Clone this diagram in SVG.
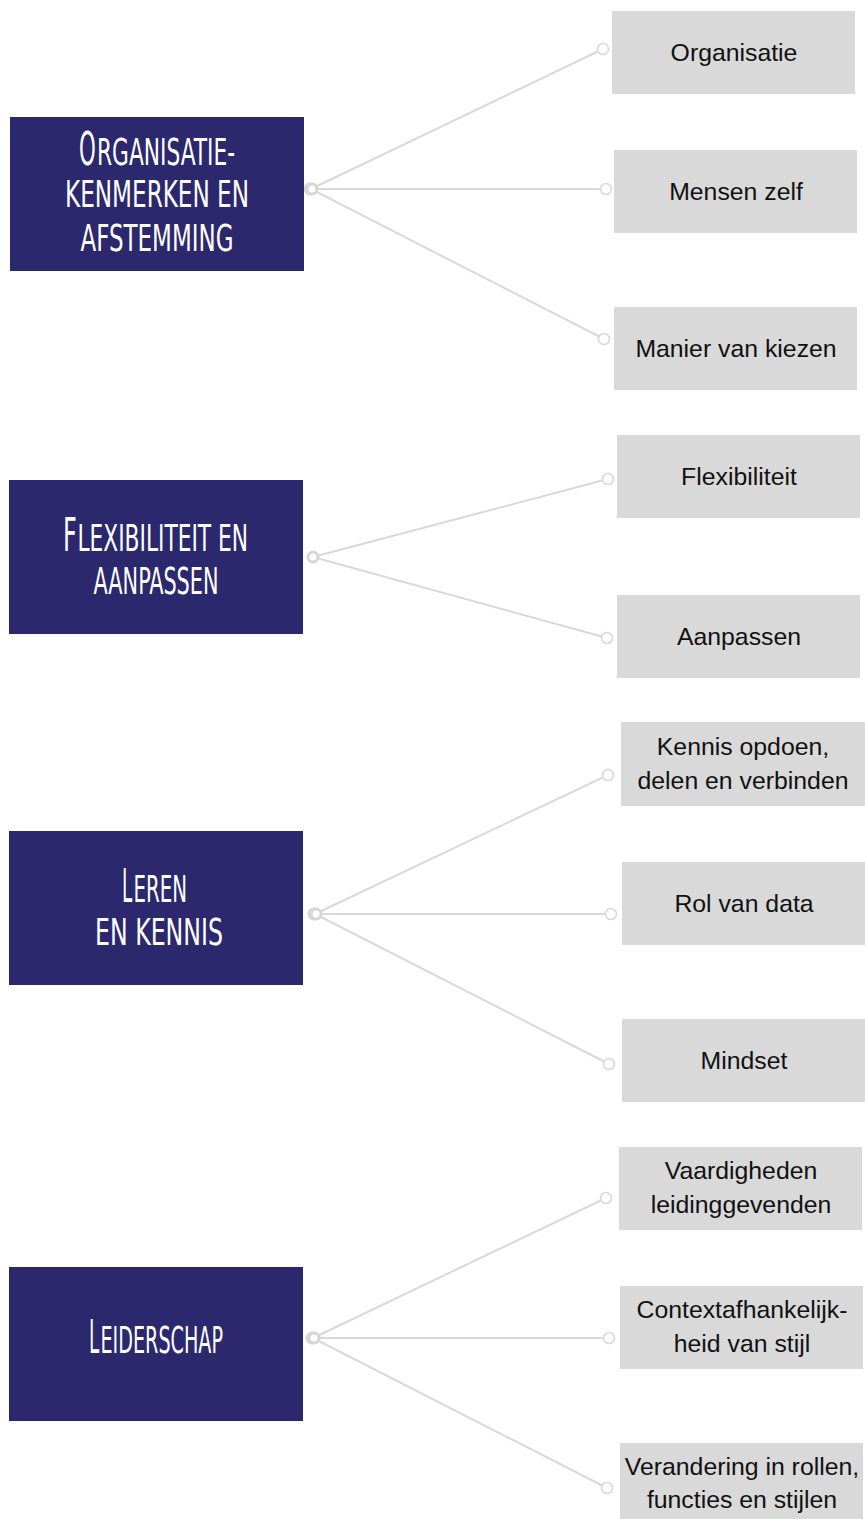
<svg xmlns="http://www.w3.org/2000/svg" width="865" height="1519" viewBox="0 0 865 1519">
  <style>
    .topic { fill: #2b286e; }
    .item { fill: #d9d9d9; }
    .head { fill: #ffffff; font-family: "Liberation Sans Narrow", "DejaVu Sans Condensed", sans-serif; }
    .cap { font-size: 46px; }
    .sc { font-size: 38px; }
    .mid { text-anchor: middle; }
    .lbl { fill: #111111; font-family: "Liberation Sans", Arial, sans-serif; font-size: 24.8px; text-anchor: middle; }
    .link { stroke: #d9d9d9; stroke-width: 2; fill: none; }
    .end { fill: #ffffff; stroke: #d9d9d9; stroke-width: 1.6; }
    .hub { fill: #ffffff; stroke: #d6d6d6; stroke-width: 3; }
  </style>

  <rect width="865" height="1519" fill="#ffffff"/>

  <!-- connectors -->
  <g id="connectors">
    <line class="link" x1="311" y1="189" x2="603" y2="49"/>
    <line class="link" x1="311" y1="189" x2="606" y2="189"/>
    <line class="link" x1="311" y1="189" x2="604" y2="339"/>
    <line class="link" x1="313" y1="557" x2="608" y2="479"/>
    <line class="link" x1="313" y1="557" x2="607" y2="638"/>
    <line class="link" x1="315" y1="914" x2="608" y2="775"/>
    <line class="link" x1="315" y1="914" x2="611" y2="914"/>
    <line class="link" x1="315" y1="914" x2="609" y2="1064"/>
    <line class="link" x1="313" y1="1338" x2="606" y2="1198"/>
    <line class="link" x1="313" y1="1338" x2="609" y2="1338"/>
    <line class="link" x1="313" y1="1338" x2="607" y2="1488"/>

    <circle class="end" cx="603" cy="49" r="5.5"/>
    <circle class="end" cx="606" cy="189" r="5.5"/>
    <circle class="end" cx="604" cy="339" r="5.5"/>
    <circle class="end" cx="608" cy="479" r="5.5"/>
    <circle class="end" cx="607" cy="638" r="5.5"/>
    <circle class="end" cx="608" cy="775" r="5.5"/>
    <circle class="end" cx="611" cy="914" r="5.5"/>
    <circle class="end" cx="609" cy="1064" r="5.5"/>
    <circle class="end" cx="606" cy="1198" r="5.5"/>
    <circle class="end" cx="609" cy="1338" r="5.5"/>
    <circle class="end" cx="607" cy="1488" r="5.5"/>

    <circle class="hub" cx="310" cy="189" r="5"/>
    <circle class="hub" cx="312" cy="189" r="5"/>
    <circle class="hub" cx="313" cy="557" r="5"/>
    <circle class="hub" cx="314" cy="914" r="5"/>
    <circle class="hub" cx="316" cy="914" r="5"/>
    <circle class="hub" cx="312" cy="1338" r="5"/>
    <circle class="hub" cx="314" cy="1338" r="5"/>
  </g>

  <!-- topic blocks: a tall, narrowed initial followed by small capitals -->
  <g id="topic-organisatie">
    <rect class="topic" x="10" y="117" width="294" height="154"/>
    <text class="head cap" transform="translate(79 165) scale(0.6 1)" textLength="28" lengthAdjust="spacingAndGlyphs">O</text>
    <text class="head sc" x="97" y="165" textLength="138" lengthAdjust="spacingAndGlyphs">RGANISATIE-</text>
    <text class="head sc mid" x="157" y="207" textLength="184" lengthAdjust="spacingAndGlyphs">KENMERKEN EN</text>
    <text class="head sc mid" x="157" y="251" textLength="153" lengthAdjust="spacingAndGlyphs">AFSTEMMING</text>
  </g>

  <g id="topic-flexibiliteit">
    <rect class="topic" x="9" y="480" width="294" height="154"/>
    <text class="head cap" transform="translate(63 551) scale(0.6 1)" textLength="23" lengthAdjust="spacingAndGlyphs">F</text>
    <text class="head sc" x="77.5" y="551" textLength="170.5" lengthAdjust="spacingAndGlyphs">LEXIBILITEIT EN</text>
    <text class="head sc mid" x="156" y="594" textLength="125" lengthAdjust="spacingAndGlyphs">AANPASSEN</text>
  </g>

  <g id="topic-leren">
    <rect class="topic" x="9" y="831" width="294" height="154"/>
    <text class="head cap" transform="translate(122 902) scale(0.6 1)" textLength="17" lengthAdjust="spacingAndGlyphs">L</text>
    <text class="head sc" x="133.5" y="902" textLength="53.5" lengthAdjust="spacingAndGlyphs">EREN</text>
    <text class="head sc mid" x="159" y="945" textLength="128" lengthAdjust="spacingAndGlyphs">EN KENNIS</text>
  </g>

  <g id="topic-leiderschap">
    <rect class="topic" x="9" y="1267" width="294" height="154"/>
    <text class="head cap" transform="translate(89 1353) scale(0.6 1)" textLength="17" lengthAdjust="spacingAndGlyphs">L</text>
    <text class="head sc" x="100.5" y="1353" textLength="122.5" lengthAdjust="spacingAndGlyphs">EIDERSCHAP</text>
  </g>

  <!-- sub-items -->
  <g id="item-organisatie">
    <rect class="item" x="612" y="11" width="243" height="83"/>
    <text class="lbl" x="734" y="61">Organisatie</text>
  </g>
  <g id="item-mensen-zelf">
    <rect class="item" x="614" y="150" width="243" height="83"/>
    <text class="lbl" x="736" y="200">Mensen zelf</text>
  </g>
  <g id="item-manier-van-kiezen">
    <rect class="item" x="614" y="307" width="243" height="83"/>
    <text class="lbl" x="736" y="357">Manier van kiezen</text>
  </g>
  <g id="item-flexibiliteit">
    <rect class="item" x="617" y="435" width="243" height="83"/>
    <text class="lbl" x="739" y="485">Flexibiliteit</text>
  </g>
  <g id="item-aanpassen">
    <rect class="item" x="617" y="595" width="243" height="83"/>
    <text class="lbl" x="739" y="645">Aanpassen</text>
  </g>
  <g id="item-kennis">
    <rect class="item" x="621" y="722" width="244" height="84"/>
    <text class="lbl" x="743" y="755">Kennis opdoen,</text>
    <text class="lbl" x="743" y="789">delen en verbinden</text>
  </g>
  <g id="item-rol-van-data">
    <rect class="item" x="622" y="862" width="243" height="83"/>
    <text class="lbl" x="744" y="912">Rol van data</text>
  </g>
  <g id="item-mindset">
    <rect class="item" x="622" y="1019" width="243" height="83"/>
    <text class="lbl" x="744" y="1069">Mindset</text>
  </g>
  <g id="item-vaardigheden">
    <rect class="item" x="619" y="1147" width="243" height="83"/>
    <text class="lbl" x="741" y="1179">Vaardigheden</text>
    <text class="lbl" x="741" y="1213">leidinggevenden</text>
  </g>
  <g id="item-context">
    <rect class="item" x="620" y="1286" width="243" height="83"/>
    <text class="lbl" x="742" y="1318">Contextafhankelijk-</text>
    <text class="lbl" x="742" y="1352">heid van stijl</text>
  </g>
  <g id="item-verandering">
    <rect class="item" x="620" y="1443" width="243" height="83"/>
    <text class="lbl" x="742" y="1475">Verandering in rollen,</text>
    <text class="lbl" x="742" y="1508">functies en stijlen</text>
  </g>
</svg>
